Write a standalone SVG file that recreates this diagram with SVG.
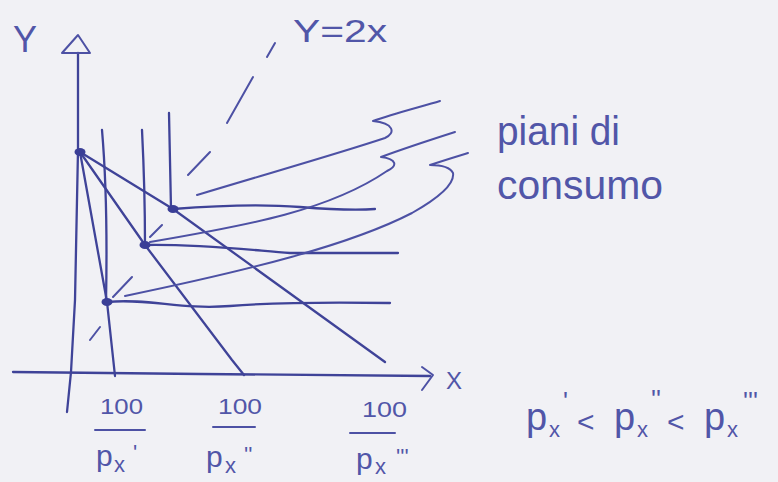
<svg xmlns="http://www.w3.org/2000/svg" width="778" height="482" viewBox="0 0 778 482">
<style>
.s{fill:none;stroke:#4d51a4;stroke-width:2;stroke-linecap:round;stroke-linejoin:round}
.d{fill:none;stroke:#3f4398;stroke-width:2.3;stroke-linecap:round}
.t{font-family:"Liberation Sans","DejaVu Sans",sans-serif;fill:#5156a8}
.dot{fill:#3a3e96}
</style>
<rect width="778" height="482" fill="#f1f1f5"/>
<g id="axes">
<path class="d" d="M78,53 L78,150 L75,300 L71,372 L67,412"/>
<path class="s" d="M78,35 L62,53 L90,53 Z"/>
<path class="d" d="M13,372 L200,374 L430,376"/>
<path class="s" d="M422,367 L433,375 L422,390"/>
<text class="t" x="13" y="52" font-size="36">Y</text>
<text class="t" x="446" y="389" font-size="24">X</text>
</g>
<g id="budget-lines">
<path class="d" d="M80,152 L107,302 L115,376"/>
<path class="d" d="M80,152 L145,245 L232,360 L244,375"/>
<path class="d" d="M80,152 L173,209 L385,362"/>
</g>
<g id="indifference-curves">
<path class="d" d="M102,130 Q108,200 106,302"/>
<path class="d" d="M142,130 Q145,190 145,245"/>
<path class="d" d="M169,113 L171,209"/>
<path class="d" d="M173,209 Q250,203 300,207 T375,209"/>
<path class="d" d="M145,245 C200,244 250,250 290,253 L398,253"/>
<path class="d" d="M107,302 C150,298 180,310 230,306 S330,302 390,303"/>
</g>
<g id="points">
<ellipse class="dot" cx="80" cy="152" rx="5.5" ry="4"/>
<ellipse class="dot" cx="173" cy="209" rx="5.5" ry="4"/>
<ellipse class="dot" cx="145" cy="245" rx="5.5" ry="4"/>
<ellipse class="dot" cx="107" cy="302" rx="5.5" ry="4"/>
</g>
<g id="ray-y2x">
<path class="s" d="M275,43 L267,57 M253,77 L227,123 M210,152 L188,175 M162,225 L150,237 M132,277 L113,297 M100,327 L90,340"/>
<text class="t" x="293" y="42" font-size="32" textLength="94" lengthAdjust="spacingAndGlyphs">Y=2x</text>
</g>
<g id="connectors">
<path class="s" d="M197,195 C280,170 340,153 385,138 C396,133 394,123 373,121 C392,114 420,107 440,101"/>
<path class="s" d="M150,242 C250,225 330,210 387,171 C398,166 397,159 381,157 C400,150 430,140 455,132"/>
<path class="s" d="M125,296 C250,270 350,245 412,213 C435,200 455,185 453,173 C450,167 440,165 430,165 C445,160 455,157 468,153"/>
</g>
<g id="label-piani">
<text class="t" x="497" y="145" font-size="40" textLength="123" lengthAdjust="spacingAndGlyphs">piani di</text>
<text class="t" x="497" y="199" font-size="40" textLength="166" lengthAdjust="spacingAndGlyphs">consumo</text>
</g>
<g id="fractions">
<text class="t" x="100" y="414" font-size="22" textLength="43" lengthAdjust="spacingAndGlyphs">100</text>
<path class="s" d="M95,430 L145,430"/>
<text class="t" x="96" y="466" font-size="30">p</text>
<text class="t" x="114" y="472" font-size="22">x</text>
<text class="t" x="133" y="460" font-size="22">'</text>
<text class="t" x="218" y="414" font-size="22" textLength="44" lengthAdjust="spacingAndGlyphs">100</text>
<path class="s" d="M213,427 L255,427"/>
<text class="t" x="206" y="467" font-size="30">p</text>
<text class="t" x="225" y="473" font-size="22">x</text>
<text class="t" x="244" y="462" font-size="22">''</text>
<text class="t" x="362" y="417" font-size="22" textLength="45" lengthAdjust="spacingAndGlyphs">100</text>
<path class="s" d="M350,433 L395,433"/>
<text class="t" x="356" y="469" font-size="30">p</text>
<text class="t" x="375" y="474" font-size="22">x</text>
<text class="t" x="396" y="464" font-size="22">'''</text>
</g>
<g id="inequality">
<text class="t" x="526" y="430" font-size="38">p</text>
<text class="t" x="549" y="437" font-size="22">x</text>
<text class="t" x="563" y="410" font-size="26">'</text>
<text class="t" x="577" y="432" font-size="30">&lt;</text>
<text class="t" x="614" y="430" font-size="38">p</text>
<text class="t" x="637" y="437" font-size="22">x</text>
<text class="t" x="651" y="408" font-size="26">''</text>
<text class="t" x="667" y="432" font-size="30">&lt;</text>
<text class="t" x="704" y="430" font-size="38">p</text>
<text class="t" x="727" y="437" font-size="22">x</text>
<text class="t" x="743" y="410" font-size="26">'''</text>
</g>
</svg>
